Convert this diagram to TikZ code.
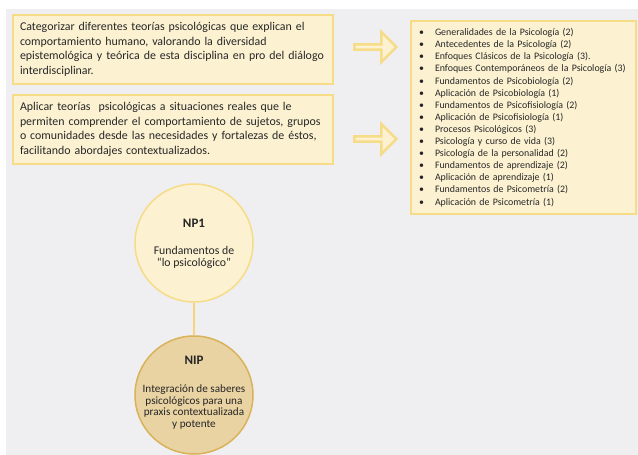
\documentclass[tikz,border=0pt]{standalone}
\usepackage{fontspec}
\setmainfont{Carlito}
\usetikzlibrary{shapes.arrows}
\definecolor{bgray}{HTML}{EFEEF0}
\definecolor{paleY}{HTML}{FCF2D2}
\definecolor{edgeY}{HTML}{F7DC88}
\definecolor{tanF}{HTML}{E9D3A3}
\definecolor{goldE}{HTML}{D9B25A}
\definecolor{ink}{HTML}{262626}
\newcommand{\oneline}[1]{\mbox{#1}}
\begin{document}
\begin{tikzpicture}[x=1pt,y=-1pt,
  objbox/.style={draw=edgeY, fill=paleY, line width=1.5pt, rectangle, minimum width=320pt, minimum height=69pt,
    text width=306pt, align=left, inner sep=0pt, font=\fontsize{11.9}{14.6}\selectfont, text=ink},
  bigarrow/.style={single arrow, draw=edgeY, fill=paleY, line width=2.5pt, minimum height=42pt, minimum width=30pt,
    single arrow head extend=6pt, inner sep=0pt},
  listbox/.style={draw=edgeY, fill=paleY, line width=1.5pt, rectangle, minimum width=225pt, minimum height=193pt,
    text width=209pt, align=left, inner sep=0pt, font=\fontsize{9.9}{12.1}\selectfont, text=ink},
  circ/.style={circle, line width=1.5pt, minimum size=118pt, inner sep=0pt},
  ttl/.style={font=\fontsize{13}{15}\selectfont\bfseries, text=ink, inner sep=0pt},
  desc/.style={align=center, text=ink, inner sep=0pt}
]
\useasboundingbox (0,0) rectangle (638,455);
\fill[bgray] (6,9) rectangle (638,455);

\node[objbox] (b1) at (173,49.5) {\oneline{Categorizar diferentes teorías psicológicas que explican el}\\\oneline{comportamiento humano, valorando la diversidad}\\\oneline{epistemológica y teórica de esta disciplina en pro del diálogo}\\\oneline{interdisciplinar.}};
\node[objbox] (b2) at (173,129.5) {\oneline{Aplicar teorías\ \ psicológicas a situaciones reales que le}\\\oneline{permiten comprender el comportamiento de sujetos, grupos}\\\oneline{o comunidades desde las necesidades y fortalezas de éstos,}\\\oneline{facilitando abordajes contextualizados.}};

\node[bigarrow] (a1) at (374,47) {};
\node[bigarrow] (a2) at (374,139) {};

\newcommand{\itm}[1]{\makebox[16pt][l]{\textbullet}#1}
\node[listbox] (lst) at (523.5,117.5) {\itm{Generalidades de la Psicología (2)}\\
\itm{Antecedentes de la Psicología (2)}\\
\itm{Enfoques Clásicos de la Psicología (3).}\\
\itm{Enfoques Contemporáneos de la Psicología (3)}\\
\itm{Fundamentos de Psicobiología (2)}\\
\itm{Aplicación de Psicobiología (1)}\\
\itm{Fundamentos de Psicofisiología (2)}\\
\itm{Aplicación de Psicofisiología (1)}\\
\itm{Procesos Psicológicos (3)}\\
\itm{Psicología y curso de vida (3)}\\
\itm{Psicología de la personalidad (2)}\\
\itm{Fundamentos de aprendizaje (2)}\\
\itm{Aplicación de aprendizaje (1)}\\
\itm{Fundamentos de Psicometría (2)}\\
\itm{Aplicación de Psicometría (1)}};

\node[circ, draw=edgeY, fill=paleY] (np1) at (194,243) {};
\node[circ, draw=goldE, fill=tanF] (nip) at (194,395) {};
\draw[edgeY!90!orange, line width=1.8pt] (np1.south) -- (nip.north);

\node[ttl] (np1t) at (194,223) {NP1};
\node[desc, font=\fontsize{11.8}{12}\selectfont] (np1d) at (194,257) {Fundamentos de\\“lo psicológico”};
\node[ttl] (nipt) at (194,360) {NIP};
\node[desc, font=\fontsize{11.2}{11.6}\selectfont] (nipd) at (194,407) {Integración de saberes\\psicológicos para una\\praxis contextualizada\\y potente};
\end{tikzpicture}
\end{document}
